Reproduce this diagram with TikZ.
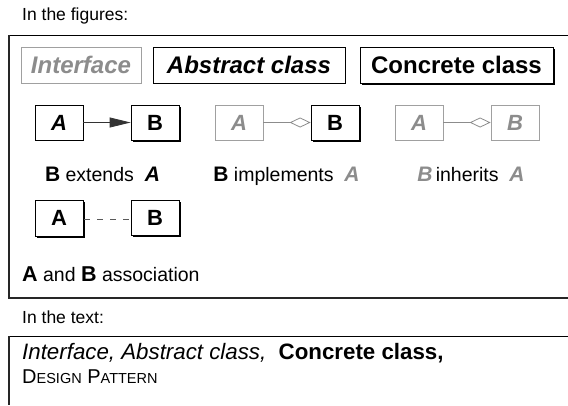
\documentclass[tikz,border=0pt]{standalone}
\usepackage{fontspec}
\setmainfont{Liberation Sans}
\usetikzlibrary{arrows.meta,shadows}
\newcommand\myfs[1]{\fontsize{#1}{#1}\selectfont}
\definecolor{ifgray}{HTML}{8C8C8C}
\definecolor{ifline}{HTML}{A0A0A0}
\begin{document}
\begin{tikzpicture}[x=1pt,y=-1pt,
  box/.style={rectangle,inner sep=0pt,fill=white,line width=0.8pt},
  concrete/.style={box,draw=black,drop shadow={shadow xshift=1.5pt,shadow yshift=-1.5pt,opacity=1,fill=black}},
  abstract/.style={box,draw=black,drop shadow={shadow xshift=1.2pt,shadow yshift=-1.2pt,opacity=1,fill=ifline}},
  iface/.style={box,draw=ifline},
  small/.style={minimum width=48pt,minimum height=35pt,font=\myfs{22}\bfseries},
  big/.style={minimum height=36pt,font=\myfs{24}\bfseries},
  lbl/.style={inner sep=0pt,anchor=base,font=\myfs{19.5}},
  txt/.style={inner sep=0pt,anchor=base west},
  frame/.style={line width=1.4pt,draw=black!85}
]
\useasboundingbox (0,0) rectangle (568,405);
% headings
\node[txt,font=\myfs{17.5}] (h1) at (22,20) {In the figures:};
\node[txt,font=\myfs{17.5}] (h2) at (22,323) {In the text:};
% frames
\draw[line width=1pt] (568,35) -- (9,35);
\draw[frame] (9,35) -- (9,298) -- (568,298);
\draw[line width=1pt] (568,336) -- (9,336);
\draw[frame] (9,336) -- (9,405);
% row 1
\node[iface,big,minimum width=120pt,text=ifgray] (if) at (81,65) {\itshape Interface};
\node[abstract,big,minimum width=192pt] (ab) at (249,65) {\itshape Abstract class};
\node[concrete,big,minimum width=193pt] (co) at (456.5,65) {Concrete class};
% row 2 : extends
\node[abstract,small] (a1) at (59,122.5) {\itshape A};
\node[concrete,small] (b1) at (155,122.5) {B};
\draw[line width=0.8pt,draw=black!80,-{Triangle[length=21pt,width=10pt]}] (a1) -- (b1);
% implements
\node[iface,small,text=ifgray] (a2) at (239,122.5) {\itshape A};
\node[concrete,small] (b2) at (335,122.5) {B};
\draw[line width=0.8pt,draw=ifgray,-{Diamond[open,length=21pt,width=10pt]}] (a2) -- (b2);
% inherits
\node[iface,small,text=ifgray] (a3) at (419,122.5) {\itshape A};
\node[iface,small,text=ifgray] (b3) at (515,122.5) {\itshape B};
\draw[line width=0.8pt,draw=ifgray,-{Diamond[open,length=21pt,width=10pt]}] (a3) -- (b3);
% labels
\node[lbl] (l1) at (102.5,181) {{\myfs{21}\bfseries B} extends \ {\myfs{21}\bfseries\itshape A}};
\node[lbl] (l2) at (286.5,181) {{\myfs{21}\bfseries B} implements \ \textcolor{ifgray}{\myfs{21}\bfseries\itshape A}};
\node[lbl] (l3) at (471,181) {\textcolor{ifgray}{\myfs{21}\bfseries\itshape B}\,inherits \ \textcolor{ifgray}{\myfs{21}\bfseries\itshape A}};
% row 3 : association
\node[concrete,small,minimum height=36pt] (a4) at (59,218) {A};
\node[concrete,small] (b4) at (155,218) {B};
\draw[line width=0.8pt,draw=black!65,dash pattern=on 6pt off 7pt,dash phase=-1pt] (a4.east|-0,219) -- (b4.west|-0,219);
\node[txt,font=\myfs{19.5}] (l4) at (22,281) {{\myfs{21.5}\bfseries A} and {\myfs{21.5}\bfseries B} association};
% text section
\node[txt,font=\myfs{22.3}] (t1) at (22,359) {\itshape Interface, Abstract class, \ \upshape\bfseries Concrete class,};
\node[txt,font=\myfs{20}] (t2) at (22,383) {D{\myfs{14.5}ESIGN} P{\myfs{14.5}ATTERN}};
\end{tikzpicture}
\end{document}
